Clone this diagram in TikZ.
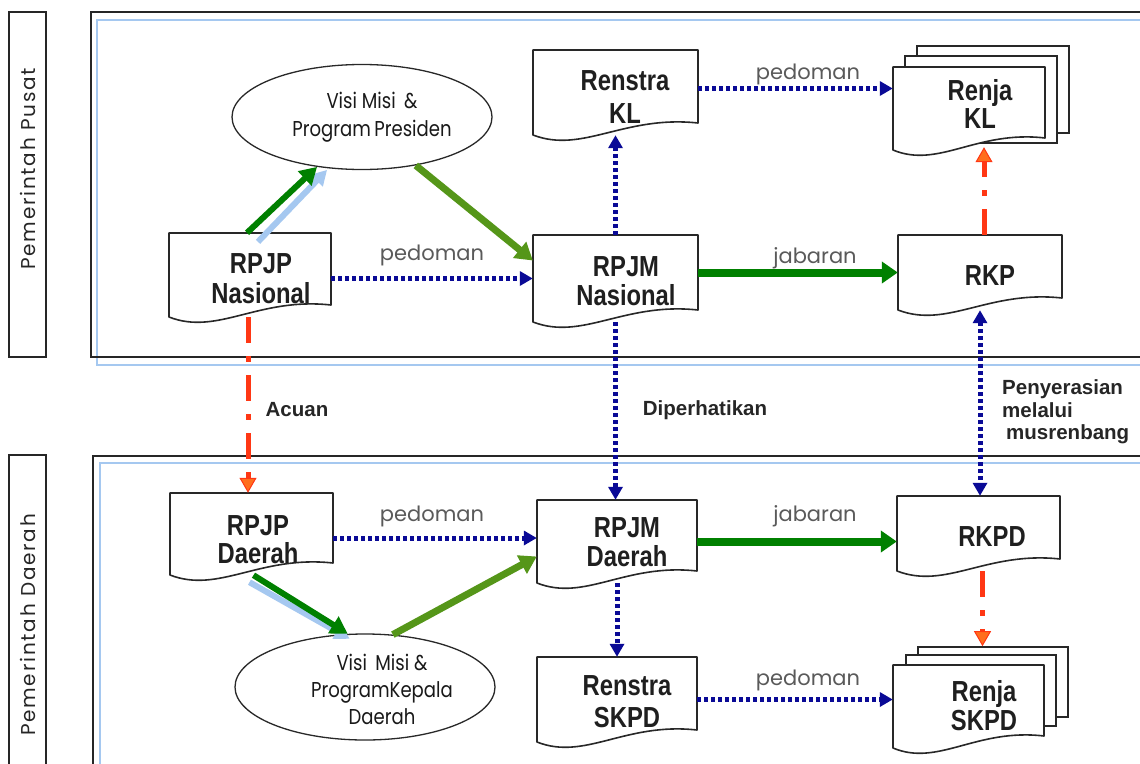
\documentclass[tikz,border=0pt]{standalone}
\usepackage{fontspec}
\setmainfont{Liberation Sans}
\newfontfamily\condfont[FakeStretch=0.82]{Liberation Sans}
\newfontfamily\geofont{Poppins}
\newfontfamily\sidefont[LetterSpace=9]{Poppins}
\newfontfamily\geocond[FakeStretch=0.84]{Poppins}
\usetikzlibrary{arrows.meta,shapes.geometric,calc}

\definecolor{dotblue}{RGB}{10,10,150}
\definecolor{acred}{RGB}{255,55,20}
\definecolor{acorange}{RGB}{255,110,30}
\definecolor{jgreen}{RGB}{0,128,0}
\definecolor{olivegr}{RGB}{85,150,25}
\definecolor{lblue}{RGB}{165,200,240}
\definecolor{labgray}{RGB}{90,90,90}
\definecolor{docgray}{RGB}{40,40,40}

\tikzset{
  docarea/.style={draw=none, rectangle, inner sep=0pt},
  docline/.style={draw=docgray, line width=1.6pt, fill=white, line join=round},
  pageback/.style={draw=docgray, line width=1.6pt, fill=white, rectangle, inner sep=0pt},
  doctext/.style={font=\condfont\bfseries\fontsize{29}{31}\selectfont, text=black!88, align=center, inner sep=0pt},
  visitext/.style={font=\geocond\fontsize{21.5}{28}\selectfont, text=black!90, align=center, inner sep=0pt},
  visiell/.style={ellipse, draw=docgray, line width=1.3pt, fill=white, inner sep=0pt},
  graylab/.style={font=\geofont\fontsize{21}{22}\selectfont, text=labgray, inner sep=0pt},
  boldlab/.style={font=\bfseries\fontsize{20.5}{22.5}\selectfont, text=black!85, inner sep=0pt},
  sidelab/.style={font=\sidefont\fontsize{20}{22}\selectfont, text=black!85, inner sep=0pt, rotate=90},
  bluedot/.style={draw=dotblue, line width=5pt, dash pattern=on 4pt off 3pt, -{Triangle[length=13pt,width=14pt]}},
  bluedotboth/.style={draw=dotblue, line width=5pt, dash pattern=on 4pt off 3pt, {Triangle[length=13pt,width=14pt]}-{Triangle[length=13pt,width=14pt]}},
  reddash/.style={draw=acred, line width=5pt, dash pattern=on 26pt off 13pt on 6pt off 13pt, -{Triangle[length=15pt,width=17pt,fill=acorange,color=acred,line width=1pt]}},
  greenarr/.style={draw=jgreen, line width=8pt, -{Triangle[length=16pt,width=21pt]}},
  olivearr/.style={draw=olivegr, line width=7pt, -{Triangle[length=17pt,width=20pt]}},
  diaggreen/.style={draw=jgreen, line width=6pt, -{Triangle[length=17pt,width=19pt]}},
  shadowarr/.style={draw=lblue, line width=6pt, -{Triangle[length=15pt,width=16pt]}},
  framebl/.style={draw=black!85, line width=1.5pt},
  framelb/.style={draw=lblue, line width=1.5pt},
}

% document shape: name, x1, y1, x2, yb (left bottom); right bottom = yb-12
\newcommand{\docnode}[5]{%
  \node[docarea, minimum width={(#4-#2)*1pt}, minimum height={(#5-#3)*1pt}] (#1) at ({(#2+#4)/2},{(#3+#5)/2}) {};
  \draw[docline] (#2,#3) -- (#4,#3) -- (#4,{#5-12})
     .. controls ({#2+0.55*(#4-#2)},{#5-20}) and ({#2+0.30*(#4-#2)},{#5+19}) .. (#2,#5) -- cycle;
}

\begin{document}
\begin{tikzpicture}[x=1pt,y=-1pt]
\useasboundingbox (0,0) rectangle (1140,763);
\clip (0,0) rectangle (1140,763);
\fill[white] (0,0) rectangle (1140,763);

% frames
\draw[framelb] (97,20) rectangle (1160,365);
\draw[framebl] (91,12) rectangle (1160,357);
\draw[framelb] (100,463) rectangle (1160,790);
\draw[framebl] (93,456) rectangle (1160,790);
\draw[framebl] (9,12) rectangle (46,357);
\draw[framebl] (9,455) rectangle (46,790);

\node[sidelab] (pusat) at (28,169) {Pemerintah Pusat};
\node[sidelab] (daerah) at (28,625) {Pemerintah Daerah};

% ellipses
\node[visiell, minimum width=260pt, minimum height=105pt] (visiP) at (362,117) {};
\node[visitext] (visiPt) at (372,117) {Visi Misi \,\&\\Program\,Presiden};
\node[visiell, minimum width=260pt, minimum height=106pt] (visiD) at (365,687) {};
\node[visitext, font=\geocond\fontsize{21.5}{27}\selectfont] (visiDt) at (382,689) {Visi \,Misi \&\\ProgramKepala\\Daerah};

% documents (top)
\docnode{rpjpn}{169}{233}{331}{317}
\docnode{renstrakl}{533}{50}{698}{135}
\node[pageback, minimum width=152pt, minimum height=87pt] (renjakl3) at (993,89.5) {};
\node[pageback, minimum width=152pt, minimum height=87pt] (renjakl2) at (981,99.5) {};
\docnode{renjakl}{893}{67}{1045}{150}
\docnode{rpjmn}{533}{235}{698}{322}
\docnode{rkp}{898}{235}{1062}{310}

% documents (bottom)
\docnode{rpjpd}{170}{493}{333}{575}
\docnode{rpjmd}{537}{500}{697}{583}
\docnode{rkpd}{897}{496}{1060}{571}
\docnode{renstras}{537}{657}{697}{742}
\node[pageback, minimum width=150pt, minimum height=70pt] (renjas3) at (993,682) {};
\node[pageback, minimum width=150pt, minimum height=71pt] (renjas2) at (981,690.5) {};
\docnode{renjas}{893}{665}{1044}{748}

% document texts
\node[doctext, font=\condfont\bfseries\fontsize{29}{30}\selectfont] (rpjpnt) at (261,279) {RPJP\\Nasional};
\node[doctext, font=\condfont\bfseries\fontsize{29}{33}\selectfont] (renstraklt) at (625,97) {Renstra\\KL};
\node[doctext, font=\condfont\bfseries\fontsize{29}{28}\selectfont] (renjaklt) at (980,104) {Renja\\KL};
\node[doctext, font=\condfont\bfseries\fontsize{29}{29}\selectfont] (rpjmnt) at (626,281) {RPJM\\Nasional};
\node[doctext] (rkpt) at (990,276) {RKP};
\node[doctext, font=\condfont\bfseries\fontsize{29}{28}\selectfont] (rpjpdt) at (258,540) {RPJP\\Daerah};
\node[doctext, font=\condfont\bfseries\fontsize{29}{29}\selectfont] (rpjmdt) at (627,542) {RPJM\\Daerah};
\node[doctext] (rkpdt) at (992,537) {RKPD};
\node[doctext, font=\condfont\bfseries\fontsize{29}{32}\selectfont] (renstrast) at (627,702) {Renstra\\SKPD};
\node[doctext, font=\condfont\bfseries\fontsize{29}{29}\selectfont] (renjast) at (984,706) {Renja\\SKPD};

% shadow arrows
\draw[shadowarr] ([xshift=8pt,yshift=-9pt]rpjpn.north) -- ([xshift=10pt,yshift=-3pt]visiP.228);
\draw[shadowarr] ([xshift=-2pt,yshift=-7pt]rpjpd.south) -- ([xshift=2pt,yshift=-5pt]visiD.108);

% connectors top
\draw[diaggreen] ([xshift=-3pt]rpjpn.north) -- (visiP.228);
\draw[olivearr] (visiP.-42) -- ([yshift=18pt]rpjmn.west);
\draw[bluedot] (rpjpn.east |- rpjmn.west) -- (rpjmn.west);
\draw[bluedot] (rpjmn.north) -- (rpjmn.north |- renstrakl.south);
\draw[bluedot] ([yshift=4pt]renstrakl.east) -- ([yshift=4pt]renstrakl.east -| renjakl.west);
\draw[greenarr] (rpjmn.east |- rkp.west) -- (rkp.west);
\draw[reddash] ([xshift=4pt]rkp.north) -- ([xshift=4pt,yshift=3pt]rkp.north |- renjakl.south);

% between
\draw[reddash] ([xshift=-2pt]rpjpn.south) -- ([xshift=-2pt]rpjpn.south |- rpjpd.north);
\draw[bluedot] (rpjmn.south) -- (rpjmn.south |- rpjmd.north);
\draw[bluedotboth] (rkp.south) -- (rkp.south |- rkpd.north);

% connectors bottom
\draw[diaggreen] ([xshift=2pt]rpjpd.south) -- (visiD.108);
\draw[olivearr] (visiD.62) -- ([yshift=-15pt]rpjmd.west);
\draw[bluedot] ([yshift=-4pt]rpjpd.east) -- ([yshift=-4pt]rpjpd.east -| rpjmd.west);
\draw[greenarr] (rpjmd.east) -- (rpjmd.east -| rkpd.west);
\draw[bluedot] (rpjmd.south) -- (rpjmd.south |- renstras.north);
\draw[reddash] ([xshift=4pt]rkpd.south) -- ([xshift=4pt]rkpd.south |- renjas3.north);
\draw[bluedot] (renstras.east) -- (renstras.east -| renjas.west);

% labels
\node[graylab] (ped1) at (432,255) {pedoman};
\node[graylab] (ped2) at (808,74) {pedoman};
\node[graylab] (ped3) at (432,516) {pedoman};
\node[graylab] (ped4) at (808,680) {pedoman};
\node[graylab] (jab1) at (815,258) {jabaran};
\node[graylab] (jab2) at (815,516) {jabaran};
\node[boldlab] (acuan) at (297,410) {Acuan};
\node[boldlab] (diper) at (705,410) {Diperhatikan};
\node[boldlab, align=left, anchor=west] (penyer) at (1002,412) {Penyerasian\\melalui\\\hspace{4pt}musrenbang};
\end{tikzpicture}
\end{document}
